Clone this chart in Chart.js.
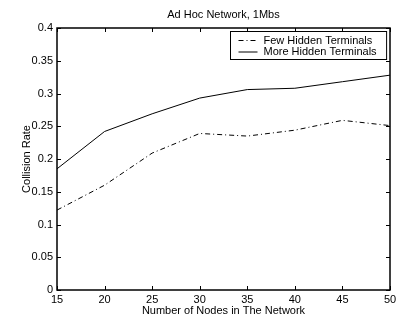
<!DOCTYPE html>
<html>
<head>
<meta charset="utf-8">
<script src="https://cdn.jsdelivr.net/npm/chart.js@4/dist/chart.umd.min.js"></script>
<style>
  html, body { margin: 0; padding: 0; background: #fff; }
  #wrap { width: 401px; height: 320px; }
</style>
</head>
<body>
<div id="wrap"><canvas id="chart"></canvas></div>
<script>
const nodes = [15, 20, 25, 30, 35, 40, 45, 50];
const fewHidden = [0.122, 0.160, 0.209, 0.239, 0.235, 0.244, 0.259, 0.251];
const moreHidden = [0.185, 0.242, 0.269, 0.293, 0.306, 0.308, 0.318, 0.328];
const seriesLabels = ['Few Hidden Terminals', 'More Hidden Terminals'];
const titleText = 'Ad Hoc Network, 1Mbs';
const xTitle = 'Number of Nodes in The Network';
const yTitle = 'Collision Rate';

const FONT = 'Liberation Sans, Arial, Helvetica, sans-serif';

// frame, inward ticks, titles and boxed legend, matlab style
const matlabFrame = {
    id: 'matlabFrame',
    afterDraw(chart) {
        const ctx = chart.ctx;
        const area = chart.chartArea;
        const xs = chart.scales.x, ys = chart.scales.y;
        const tl = 4;
        ctx.save();
        ctx.strokeStyle = '#000';
        ctx.lineWidth = 1;
        ctx.beginPath();
        xs.ticks.forEach(t => {
            const px = Math.round(xs.getPixelForValue(t.value)) + 0.5;
            ctx.moveTo(px, area.bottom); ctx.lineTo(px, area.bottom - tl);
            ctx.moveTo(px, area.top); ctx.lineTo(px, area.top + tl);
        });
        ys.ticks.forEach(t => {
            const py = Math.round(ys.getPixelForValue(t.value)) + 0.5;
            ctx.moveTo(area.left, py); ctx.lineTo(area.left + tl, py);
            ctx.moveTo(area.right, py); ctx.lineTo(area.right - tl, py);
        });
        ctx.stroke();
        ctx.lineWidth = 1.5;
        ctx.strokeRect(area.left, area.top, area.right - area.left, area.bottom - area.top);

        // titles
        ctx.fillStyle = '#000';
        ctx.font = '11px ' + FONT;
        ctx.textAlign = 'center';
        ctx.textBaseline = 'middle';
        ctx.fillText(titleText, (area.left + area.right) / 2, 15);
        ctx.fillText(xTitle, (area.left + area.right) / 2, 311);
        ctx.save();
        ctx.translate(27, (area.top + area.bottom) / 2);
        ctx.rotate(-Math.PI / 2);
        ctx.fillText(yTitle, 0, 0);
        ctx.restore();

        // legend
        const ds = chart.data.datasets;
        const textW = Math.max(...ds.map(d => ctx.measureText(d.label).width));
        const boxW = textW + 43;
        const boxH = 28;
        const bx = Math.round(area.right - 4 - boxW) + 0.5;
        const by = Math.round(area.top + 3) + 0.5;
        ctx.fillStyle = '#fff';
        ctx.fillRect(bx, by, boxW, boxH);
        ctx.lineWidth = 1;
        ctx.strokeRect(bx, by, boxW, boxH);
        ds.forEach((d, i) => {
            const cy = by + 9 + i * 11.5;
            ctx.beginPath();
            ctx.setLineDash(d.borderDash || []);
            ctx.strokeStyle = d.borderColor;
            ctx.lineWidth = d.borderWidth;
            ctx.moveTo(bx + 8, cy);
            ctx.lineTo(bx + 27, cy);
            ctx.stroke();
            ctx.setLineDash([]);
            ctx.fillStyle = '#000';
            ctx.textAlign = 'left';
            ctx.fillText(d.label, bx + 33, cy);
        });
        ctx.restore();
    }
};

const ctxChart = document.getElementById('chart').getContext('2d');
new Chart(ctxChart, {
    type: 'line',
    data: {
        datasets: [{
            label: seriesLabels[0],
            data: nodes.map((n, i) => ({ x: n, y: fewHidden[i] })),
            borderColor: '#000',
            borderWidth: 1,
            borderDash: [5, 3, 1, 3],
            pointRadius: 0,
            tension: 0,
            fill: false
        }, {
            label: seriesLabels[1],
            data: nodes.map((n, i) => ({ x: n, y: moreHidden[i] })),
            borderColor: '#000',
            borderWidth: 1,
            pointRadius: 0,
            tension: 0,
            fill: false
        }]
    },
    options: {
        responsive: true,
        maintainAspectRatio: false,
        animation: false,
        layout: { padding: { top: 28, right: 11, left: 0, bottom: 0 } },
        plugins: {
            legend: { display: false },
            title: { display: false },
            tooltip: { enabled: false }
        },
        scales: {
            x: {
                type: 'linear',
                min: 15,
                max: 50,
                grid: { display: false, drawTicks: false },
                border: { display: false },
                ticks: {
                    stepSize: 5,
                    color: '#000',
                    font: { family: FONT, size: 11 },
                    padding: 3,
                    maxRotation: 0
                },
                afterFit: s => { s.height = 30; }
            },
            y: {
                min: 0,
                max: 0.4,
                grid: { display: false, drawTicks: false },
                border: { display: false },
                ticks: {
                    stepSize: 0.05,
                    color: '#000',
                    font: { family: FONT, size: 11 },
                    padding: 4,
                    callback: v => String(+v.toFixed(2))
                },
                afterFit: s => { s.width = 57; }
            }
        }
    },
    plugins: [matlabFrame]
});
</script>
</body>
</html>
